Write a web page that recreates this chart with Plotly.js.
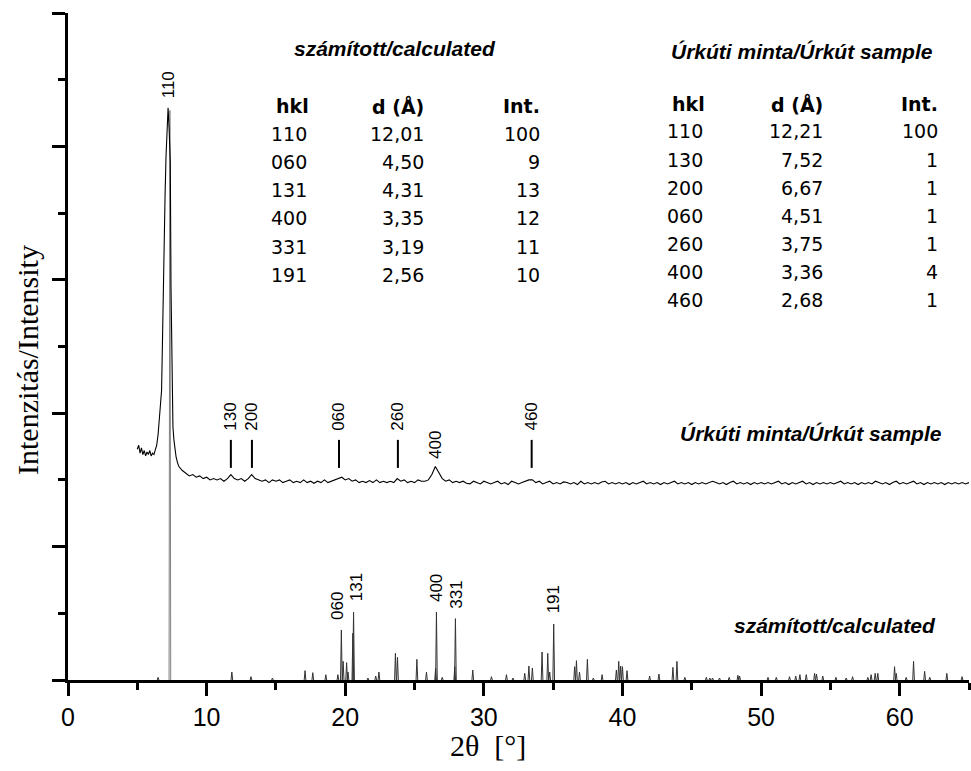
<!DOCTYPE html>
<html><head><meta charset="utf-8">
<script src="https://cdn.plot.ly/plotly-3.0.1.min.js"></script>
<style>html,body{margin:0;padding:0;background:#fff;} #chart{width:971px;height:771px;}</style>
</head><body><div id="chart"></div>
<script>
// ---------- DATA ----------
// Úrkút sample diffraction pattern (2θ, intensity in axis units)
const sampleX = [5.0,5.1,5.2,5.3,5.4,5.5,5.6,5.7,5.8,5.9,6.0,6.1,6.2,6.3,6.4,6.5,6.6,6.7,
  6.75,6.8,6.87,6.94,7.0,7.07,7.15,7.22,7.3,7.38,7.43,7.5,7.57,7.64,7.72,7.8,7.9,
  8,8.25,8.5,8.75,9,9.25,9.5,9.75,10,10.25,10.5,10.75,11,11.25,11.5,11.75,12,
  12.25,12.5,12.75,13,13.25,13.5,13.75,14,14.25,14.5,14.75,15,15.25,15.5,15.75,16,
  16.25,16.5,16.75,17,17.25,17.5,17.75,18,18.25,18.5,18.75,19,19.25,19.5,19.75,20,
  20.25,20.5,20.75,21,21.25,21.5,21.75,22,22.25,22.5,22.75,23,23.25,23.5,23.75,24,
  24.25,24.5,24.75,25,25.25,25.5,25.75,26,26.25,26.5,26.75,27,27.25,27.5,27.75,28,
  28.25,28.5,28.75,29,29.25,29.5,29.75,30,30.25,30.5,30.75,31,31.25,31.5,31.75,32,
  32.25,32.5,32.75,33,33.25,33.5,33.75,34,34.25,34.5,34.75,35,35.25,35.5,35.75,36,
  36.25,36.5,36.75,37,37.25,37.5,37.75,38,38.25,38.5,38.75,39,39.25,39.5,39.75,40,
  40.25,40.5,40.75,41,41.25,41.5,41.75,42,42.25,42.5,42.75,43,43.25,43.5,43.75,44,
  44.25,44.5,44.75,45,45.25,45.5,45.75,46,46.25,46.5,46.75,47,47.25,47.5,47.75,48,
  48.25,48.5,48.75,49,49.25,49.5,49.75,50,50.25,50.5,50.75,51,51.25,51.5,51.75,52,
  52.25,52.5,52.75,53,53.25,53.5,53.75,54,54.25,54.5,54.75,55,55.25,55.5,55.75,56,
  56.25,56.5,56.75,57,57.25,57.5,57.75,58,58.25,58.5,58.75,59,59.25,59.5,59.75,60,
  60.25,60.5,60.75,61,61.25,61.5,61.75,62,62.25,62.5,62.75,63,63.25,63.5,63.75,64,
  64.25,64.5,64.75,65];
const sampleY = [1.73,1.76,1.70,1.74,1.69,1.72,1.68,1.71,1.69,1.72,1.68,1.70,1.69,1.72,1.76,1.84,1.95,2.08,
  2.17,2.45,2.92,3.43,3.62,3.92,4.15,4.29,4.12,3.88,2.95,2.20,1.90,1.80,1.72,1.67,1.63,
  1.60,1.57,1.55,1.53,1.54,1.52,1.53,1.51,1.52,1.50,1.51,1.50,1.51,1.49,1.51,1.54,1.51,
  1.50,1.51,1.49,1.51,1.54,1.51,1.50,1.49,1.50,1.48,1.50,1.49,1.50,1.48,1.49,1.50,
  1.48,1.49,1.48,1.50,1.48,1.49,1.475,1.49,1.48,1.50,1.48,1.49,1.50,1.51,1.52,1.50,
  1.51,1.49,1.50,1.48,1.49,1.48,1.495,1.48,1.50,1.48,1.49,1.48,1.49,1.48,1.51,1.49,
  1.50,1.48,1.49,1.48,1.50,1.49,1.49,1.50,1.54,1.60,1.56,1.51,1.49,1.50,1.48,1.49,
  1.48,1.49,1.475,1.47,1.49,1.48,1.47,1.49,1.48,1.47,1.48,1.49,1.47,1.48,1.465,1.49,
  1.48,1.47,1.48,1.49,1.50,1.50,1.48,1.49,1.47,1.48,1.49,1.47,1.48,1.47,1.485,1.48,
  1.47,1.48,1.465,1.49,1.47,1.48,1.47,1.48,1.47,1.485,1.49,1.47,1.48,1.47,1.48,1.47,
  1.48,1.465,1.48,1.47,1.48,1.49,1.47,1.48,1.47,1.48,1.465,1.48,1.47,1.48,1.49,1.47,
  1.48,1.47,1.48,1.465,1.48,1.47,1.48,1.47,1.48,1.49,1.48,1.47,1.48,1.465,1.48,1.49,
  1.47,1.48,1.47,1.48,1.465,1.48,1.47,1.48,1.47,1.48,1.47,1.48,1.49,1.47,1.48,1.465,
  1.48,1.47,1.48,1.49,1.47,1.48,1.465,1.48,1.47,1.48,1.47,1.48,1.47,1.48,1.49,1.47,
  1.48,1.47,1.48,1.465,1.48,1.47,1.48,1.47,1.49,1.48,1.47,1.48,1.465,1.48,1.49,1.47,
  1.48,1.47,1.48,1.49,1.47,1.48,1.465,1.48,1.47,1.48,1.47,1.48,1.465,1.48,1.47,1.48,
  1.47,1.48,1.47,1.48];

// Calculated pattern: peak positions (2θ) and heights (axis units)
const calcPos = [6.5,7.35,11.82,13.2,14.75,17.1,17.66,18.6,19.47,19.72,19.85,20.1,20.2,20.55,20.6,
  21.64,22.2,22.43,23.62,23.77,25.17,25.86,26.52,26.58,27.0,27.9,27.95,29.2,30.55,31.63,
  32.1,32.95,33.25,33.5,34.2,34.61,34.75,35.04,36.55,36.68,36.9,37.47,37.9,38.53,39.56,
  39.73,39.87,40.0,40.33,41.96,42.63,43.64,43.93,44.5,46.05,46.3,46.5,47.0,47.7,48.33,
  48.45,50.5,51.1,52.05,52.5,52.8,53.26,53.86,54.0,54.45,55.4,56.14,56.6,57.7,57.94,
  58.23,58.42,59.63,59.75,60.47,61.0,61.8,62.17,63.4,64.5];
const calcInt = [0.02,4.27,0.06,0.025,0.015,0.07,0.055,0.04,0.04,0.375,0.14,0.13,0.06,0.35,0.51,
  0.015,0.03,0.06,0.2,0.17,0.155,0.06,0.09,0.51,0.02,0.1,0.46,0.075,0.025,0.04,
  0.015,0.05,0.105,0.09,0.21,0.2,0.06,0.42,0.1,0.145,0.06,0.155,0.015,0.04,0.075,
  0.14,0.105,0.1,0.07,0.03,0.045,0.095,0.14,0.02,0.02,0.015,0.015,0.015,0.02,0.035,
  0.03,0.02,0.02,0.025,0.03,0.04,0.04,0.05,0.045,0.03,0.02,0.015,0.025,0.02,0.04,
  0.05,0.05,0.1,0.05,0.02,0.14,0.065,0.02,0.05,0.025];

// Peak labels
const calcLabelHkl = ['060','131','400','331','191'];
const calcLabelPos = [19.72,20.6,26.58,27.95,35.04];
const calcLabelH = [0.375,0.51,0.51,0.46,0.42];
const sampleMarkHkl = ['130','200','060','260','460'];
const sampleMarkPos = [11.75,13.27,19.55,23.8,33.45];
const sample400Pos = 26.55, sample400H = 1.60;
const sample110Pos = 7.22, sample110H = 4.29;

// Tables
const calcHkl = ['110','060','131','400','331','191'];
const calcD = [12.01,4.50,4.31,3.35,3.19,2.56];
const calcI = [100,9,13,12,11,10];
const sampHkl = ['110','130','200','060','260','400','460'];
const sampD = [12.21,7.52,6.67,4.51,3.75,3.36,2.68];
const sampI = [100,1,1,1,1,4,1];

// ---------- DRAWING ----------
const L=68, T=13, W=901, H=667;
const px = v => (v-L)/W, py = v => (T+H-v)/H;
const HW = 0.06;

function sticks(pos, hts, keep){
  const x=[], y=[];
  pos.forEach((p,i)=>{ if(!keep(i)) return; x.push(p-HW,p,p+HW,null); y.push(0,hts[i],0,null); });
  return {x,y};
}
const maxI = Math.max(...calcInt);
const sMain = sticks(calcPos, calcInt, i=>calcInt[i]===maxI);
const sRest = sticks(calcPos, calcInt, i=>calcInt[i]!==maxI);

const mx=[], my=[];
sampleMarkPos.forEach(p=>{ mx.push(p,p,null); my.push(1.59,1.80,null); });

const traces = [
  {x:sRest.x, y:sRest.y, mode:'lines', line:{color:'#333', width:1}, hoverinfo:'skip'},
  {x:sMain.x, y:sMain.y, mode:'lines', line:{color:'#808080', width:1}, hoverinfo:'skip'},
  {x:sampleX, y:sampleY, mode:'lines', line:{color:'#000', width:1.1}, hoverinfo:'skip'},
  {x:mx, y:my, mode:'lines', line:{color:'#000', width:2}, hoverinfo:'skip'}
];

const ann = [];
const lblFont = {family:'Liberation Sans, Arial', size:17, color:'#000'};
function vlabel(text, x, y, xshift){
  ann.push({text, x, y, xref:'x', yref:'y', showarrow:false, textangle:-90,
    xanchor:'center', yanchor:'bottom', font:lblFont, borderpad:0, xshift:xshift||0});
}
vlabel('110', sample110Pos, sample110H+0.06);
sampleMarkHkl.forEach((t,i)=>vlabel(t, sampleMarkPos[i], 1.86));
vlabel('400', sample400Pos, sample400H+0.05);
const calcShift = [-4,3,0,1,0];
calcLabelHkl.forEach((t,i)=>vlabel(t, calcLabelPos[i], calcLabelH[i]+0.07, calcShift[i]));

const titleFont = {family:'Liberation Sans, Arial', size:21, color:'#000'};
function ptext(text, xp, yp, font, xanchor, angle){
  ann.push({text, x:px(xp), y:py(yp), xref:'paper', yref:'paper', showarrow:false,
    xanchor:xanchor||'center', yanchor:'middle', font, borderpad:0, borderwidth:0, textangle:angle||0});
}
ptext('<b><i>számított/calculated</i></b>', 395, 48.5, titleFont);
ptext('<b><i>Úrkúti minta/Úrkút sample</i></b>', 801.5, 51, titleFont);
ptext('<b><i>Úrkúti minta/Úrkút sample</i></b>', 811, 433, titleFont);
ptext('<b><i>számított/calculated</i></b>', 835, 625, titleFont);

const tf = {family:'DejaVu Sans', size:19, color:'#000'};
const fmt = d => d.toFixed(2).replace('.', ',');
function table(hkl, d, I, hx, hxh, dx, ix, y0, dy, hy){
  ptext('<b>hkl</b>', hxh, hy, tf, 'left');
  ptext('<b>d (Å)</b>', dx, hy, tf, 'right');
  ptext('<b>Int.</b>', ix, hy, tf, 'right');
  hkl.forEach((h,i)=>{
    const y = y0 + dy*i;
    ptext(h, hx, y, tf, 'left');
    ptext(fmt(d[i]), dx, y, tf, 'right');
    ptext(String(I[i]), ix, y, tf, 'right');
  });
}
table(calcHkl, calcD, calcI, 271, 276, 424, 540, 133.5, 28.3, 106);
table(sampHkl, sampD, sampI, 667, 672, 823, 938, 131.5, 28, 104.5);

ptext('Intenzitás/Intensity', 27, 360, {family:'Liberation Serif, Times New Roman', size:30, color:'#000'}, 'center', -90);
ptext('2θ\u00a0\u00a0[°]', 488, 745, {family:'Liberation Serif, Times New Roman', size:30, color:'#000'});

const axBase = {showline:true, linewidth:3, linecolor:'#000', ticks:'outside', ticklen:13, tickwidth:3,
  tickcolor:'#000', showgrid:false, zeroline:false, mirror:false, fixedrange:true};
const layout = {
  width:971, height:771, margin:{l:L, r:971-L-W, t:T, b:771-T-H},
  paper_bgcolor:'#fff', plot_bgcolor:'#fff', showlegend:false,
  xaxis: Object.assign({}, axBase, {range:[0,65], tick0:0, dtick:10,
    tickfont:{family:'Liberation Sans, Arial', size:25, color:'#000'},
    minor:{dtick:5, ticks:'outside', ticklen:7, tickwidth:3, tickcolor:'#000', showgrid:false}}),
  yaxis: Object.assign({}, axBase, {range:[0,5], tick0:0, dtick:1, showticklabels:false,
    minor:{dtick:0.5, ticks:'outside', ticklen:7, tickwidth:3, tickcolor:'#000', showgrid:false}}),
  annotations: ann
};
Plotly.newPlot('chart', traces, layout, {staticPlot:true, displayModeBar:false});
</script></body></html>
